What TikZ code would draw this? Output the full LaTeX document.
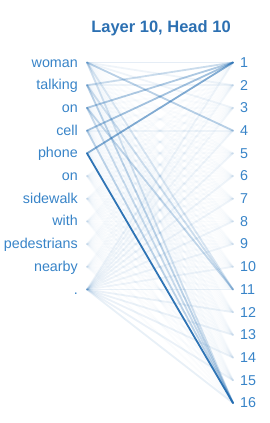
\documentclass[tikz,border=0pt]{standalone}
\usepackage{fontspec}
\setmainfont{Liberation Sans}
\definecolor{txtblue}{RGB}{56,132,200}
\definecolor{ttlblue}{RGB}{44,112,178}
\definecolor{lnblue}{RGB}{30,105,175}
\begin{document}
\begin{tikzpicture}[x=1pt,y=1pt,
  word/.style={anchor=base east,text=txtblue,font=\fontsize{14.3}{16}\selectfont,inner sep=0pt},
  num/.style={anchor=base west,text=txtblue,font=\fontsize{14.3}{16}\selectfont,inner sep=0pt},
  ttl/.style={text=ttlblue,font=\bfseries\fontsize{16.5}{19}\selectfont,inner sep=0pt},
  att/.style={draw=lnblue,line width=1.8pt,line cap=round}]
\useasboundingbox (0,0) rectangle (269,-423);
\node[ttl] (title) at (161,-28.5) {Layer 10, Head 10};
% left words
\foreach \w [count=\i] in {woman,talking,on,cell,phone,on,sidewalk,with,pedestrians,nearby,.}{
  \pgfmathsetmacro\yy{62.5+22.7*(\i-1)}
  \coordinate (L\i) at (87,-\yy);
  \node[word] (w\i) at (78,-\yy-4.5) {\w};
}
% right numbers
\foreach \i in {1,...,16}{
  \pgfmathsetmacro\yy{62.5+22.7*(\i-1)}
  \coordinate (R\i) at (233,-\yy);
  \node[num] (n\i) at (240,-\yy-4.8) {\i};
}
% faint background attention
\foreach \s in {1,...,10}{
  \foreach \t in {1,...,16}{
    \draw[att,draw opacity=0.02] (L\s) -- (R\t);
  }
}
% fan from "."
\foreach \t/\o in {1/0.07,2/0.05,3/0.05,4/0.07,5/0.07,6/0.07,7/0.07,8/0.07,9/0.07,10/0.07,11/0.09,12/0.09,13/0.09,14/0.09,15/0.09,16/0.1}{
  \draw[att,draw opacity=\o] (L11) -- (R\t);
}
% stronger attention
\foreach \s/\t/\o in {1/1/0.1,1/4/0.3,1/11/0.15,1/16/0.18,1/2/0.05,1/3/0.05,
                      2/1/0.22,2/11/0.2,2/16/0.28,2/2/0.05,
                      3/1/0.35,3/11/0.25,3/16/0.22,
                      4/1/0.4,4/16/0.28,4/4/0.05,
                      5/1/0.55,5/16/0.92}{
  \draw[att,draw opacity=\o] (L\s) -- (R\t);
}
\end{tikzpicture}
\end{document}
